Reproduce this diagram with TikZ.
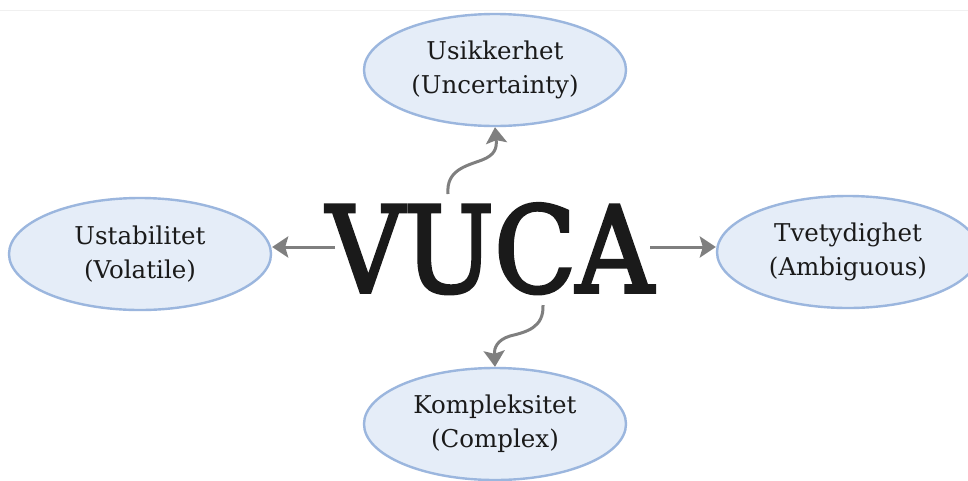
\documentclass[tikz,border=0pt]{standalone}
\usepackage{fontspec}
\setmainfont{DejaVu Serif}
\newfontfamily\titlefont{DejaVu Serif}[FakeBold=3]
\usetikzlibrary{shapes.geometric,arrows.meta}
\definecolor{ellfill}{HTML}{E5EDF8}
\definecolor{elldraw}{HTML}{9BB6DE}
\definecolor{arrowgray}{HTML}{7F7F7F}
\definecolor{inkdark}{HTML}{1A1A1A}
\tikzset{
  term/.style={ellipse, draw=elldraw, fill=ellfill, line width=2.4pt,
    minimum width=262pt, minimum height=112pt, inner sep=0pt,
    align=center, text=inkdark, font=\fontsize{24.5}{34}\selectfont},
  link/.style={draw=arrowgray, line width=3pt,
    -{Stealth[length=16pt,width=21pt,inset=3pt]}},
}
\begin{document}
\begin{tikzpicture}[x=1pt,y=-1pt]
  \path[use as bounding box] (0,0) rectangle (968,480);
  \clip (0,0) rectangle (968,480);
  \fill[white] (0,0) rectangle (968,480);
  \draw[gray!12, line width=0.8pt] (0,10) -- (968,10);

  % the four concept ellipses
  \node[term] (u) at (495,70) {Usikkerhet\\(Uncertainty)};
  \node[term] (v) at (140,254) {Ustabilitet\\(Volatile)};
  \node[term] (a) at (848,252) {Tvetydighet\\(Ambiguous)};
  \node[term] (c) at (495,424) {Kompleksitet\\(Complex)};

  % central title
  \node[anchor=base, inner sep=0pt, text=inkdark,
        font=\titlefont\fontsize{119}{119}\selectfont] (vuca) at (490,292)
        {\scalebox{0.9}[1]{VUCA}};

  % start points of the connectors
  \coordinate (sl) at (335,247);
  \coordinate (sr) at (650,247);
  \coordinate (st) at (448,194);
  \coordinate (sb) at (543,305);

  \draw[link] (sl) -- (v.east |- sl);
  \draw[link] (sr) -- (a.west |- sr);
  \draw[link] (st) .. controls (446,170) and (466,166) .. (482,160)
                   .. controls (495,155) and (497,148) .. (u.south);
  \draw[link] (sb) .. controls (544,328) and (526,332) .. (510,336)
                   .. controls (497,340) and (494,348) .. (c.north);
\end{tikzpicture}
\end{document}
